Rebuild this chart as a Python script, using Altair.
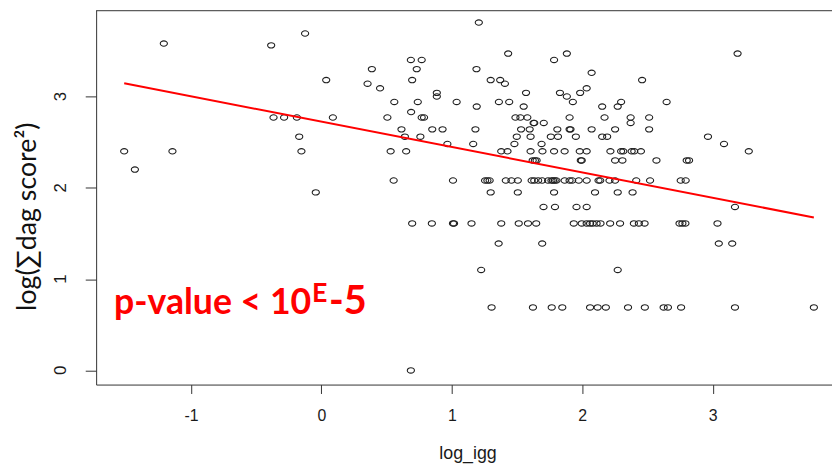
import altair as alt
import pandas as pd

# values
log_igg = [
    -1.512, -1.43, -1.208, -1.142, -0.385, -0.125, 0.037, -0.367, -0.286, -0.188, 0.088, -0.17, -0.153, -0.043,
    1.207, 1.432, 1.784, 1.882, 0.686, 0.769, 0.387, 0.731, 1.189, 0.696, 1.298, 1.371, 1.407, 0.354, 0.45,
    0.885, 0.885, 1.569, 1.829, 1.984, 1.882, 1.928, 0.559, 0.739, 1.037, 1.361, 1.44, 1.551, 1.191, 0.688,
    0.506, 0.769, 0.787, 1.488, 1.526, 1.579, 1.903, 1.627, 1.632, 1.705, 0.614, 0.85, 0.929, 1.181, 1.531,
    1.597, 1.809, 1.903, 1.91, 0.64, 0.759, 1.498, 1.604, 1.759, 1.814, 1.951, 0.966, 1.164, 1.48, 1.688,
    0.531, 0.65, 1.379, 1.427, 1.604, 1.695, 1.784, 1.865, 1.981, 1.62, 1.637, 1.65, 1.989, 1.996,
    0.554, 1.009, 1.255, 1.273, 1.29, 1.414, 1.457, 1.506, 1.612, 1.632, 1.662, 1.693, 1.738, 1.764, 1.776,
    1.789, 1.802, 1.865, 1.903, 1.923, 1.973,
    1.298, 1.506, 1.784,
    3.191, 2.072, 2.459, 2.034, 2.298, 2.647, 2.153, 2.272, 2.171, 2.371, 2.513, 2.371, 2.072, 2.252, 2.513,
    2.153, 2.191, 2.964, 3.087, 3.277,
    2.034, 2.216, 2.298, 2.315, 2.379, 2.399, 2.45,
    2.252, 2.308, 2.569, 2.801, 2.819,
    2.034, 2.125, 2.138, 2.209, 2.252, 2.414, 2.52, 2.755, 2.793,
    2.098, 2.272, 2.386,
    1.703, 1.791, 1.956,
    0.696, 0.847, 1.009, 1.017, 1.151, 1.379, 1.513, 1.584, 1.647, 1.935, 1.996,
    1.359, 1.693,
    1.225,
    1.305, 1.622, 1.766, 1.847,
    0.686,
    2.034, 3.171,
    2.034, 2.06, 2.08, 2.11, 2.14, 2.214, 2.29, 2.396, 2.434, 2.478, 2.746, 2.768, 2.791, 3.037,
    3.047, 3.15,
    2.272,
    2.06, 2.118, 2.181, 2.351, 2.48, 2.624, 2.657, 2.758, 3.171, 3.776,
]
log_dag = [
    2.40, 2.20, 3.58, 2.40, 3.56, 3.69, 3.18, 2.77, 2.77, 2.77, 2.77, 2.56, 2.40, 1.95,
    3.81, 3.47, 3.40, 3.47, 3.40, 3.40, 3.30, 3.30, 3.30, 3.18, 3.18, 3.18, 3.14, 3.14, 3.09,
    3.04, 3.00, 3.04, 3.04, 3.04, 3.00, 2.94, 2.94, 2.94, 2.94, 2.94, 2.94, 2.89, 2.89, 2.83,
    2.77, 2.77, 2.77, 2.77, 2.77, 2.77, 2.77, 2.71, 2.71, 2.71, 2.64, 2.64, 2.64, 2.64, 2.64,
    2.64, 2.64, 2.64, 2.64, 2.56, 2.56, 2.56, 2.56, 2.56, 2.56, 2.56, 2.48, 2.48, 2.48, 2.48,
    2.40, 2.40, 2.40, 2.40, 2.40, 2.40, 2.40, 2.40, 2.40, 2.30, 2.30, 2.30, 2.30, 2.30,
    2.08, 2.08, 2.08, 2.08, 2.08, 2.08, 2.08, 2.08, 2.08, 2.08, 2.08, 2.08, 2.08, 2.08, 2.08,
    2.08, 2.08, 2.08, 2.08, 2.08, 2.08,
    1.95, 1.95, 1.95,
    3.47, 3.26, 3.18, 3.09, 2.94, 2.94, 2.89, 2.89, 2.77, 2.77, 2.77, 2.71, 2.64, 2.64, 2.64,
    2.56, 2.56, 2.56, 2.48, 2.40,
    2.40, 2.40, 2.40, 2.40, 2.40, 2.40, 2.40,
    2.30, 2.30, 2.30, 2.30, 2.30,
    2.08, 2.08, 2.08, 2.08, 2.08, 2.08, 2.08, 2.08, 2.08,
    1.95, 1.95, 1.95,
    1.79, 1.79, 1.79,
    1.61, 1.61, 1.61, 1.61, 1.61, 1.61, 1.61, 1.61, 1.61, 1.61, 1.61,
    1.39, 1.39,
    1.10,
    0.69, 0.69, 0.69, 0.69,
    0.00,
    1.79, 1.79,
    1.61, 1.61, 1.61, 1.61, 1.61, 1.61, 1.61, 1.61, 1.61, 1.61, 1.61, 1.61, 1.61, 1.61,
    1.39, 1.39,
    1.10,
    0.69, 0.69, 0.69, 0.69, 0.69, 0.69, 0.69, 0.69, 0.69, 0.69,
]
fit_intercept = 2.725
fit_slope = -0.278
x_ticks = [-1, 0, 1, 2, 3]
y_ticks = [0, 1, 2, 3]
x_title = "log_igg"
y_title = "log(\u2211dag score\u00b2)"
ann_main = "p-value < 10"
ann_sup = "E"
ann_tail = "-5"

df = pd.DataFrame({"log_igg": log_igg, "log_dag": log_dag})
xmin, xmax = min(log_igg), max(log_igg)
fit_df = pd.DataFrame({
    "log_igg": [xmin, xmax],
    "fit": [fit_intercept + fit_slope * xmin, fit_intercept + fit_slope * xmax],
})
ytick_df = pd.DataFrame({"v": y_ticks, "lab": [str(v) for v in y_ticks]})

W, H = 743, 378
xscale = alt.Scale(domain=[-1.727, 3.915], nice=False, zero=False)
yscale = alt.Scale(domain=[-0.155, 3.945], nice=False, zero=False)
AX = "Liberation Sans"
TXT = "#1a1a1a"
ANN_FONT = "Lato"

x_axis = alt.Axis(values=x_ticks, title=x_title, grid=False, domainColor="#333", tickColor="#333",
                  tickSize=9, labelPadding=22, labelBaseline="middle", labelFont=AX, labelFontSize=16,
                  labelColor=TXT, labelExpr="'' + datum.value", titleFont=AX, titleFontSize=18,
                  titleFontWeight="normal", titleColor=TXT, titleX=375, titleY=75,
                  titleBaseline="alphabetic", titleAlign="center", labelFlush=False)
y_axis = alt.Axis(values=y_ticks, title=y_title, grid=False, domainColor="#333", tickColor="#333",
                  tickSize=11, labels=False, titleFont="Lato", titleFontSize=27,
                  titleFontWeight="normal", titleColor="#111", titleX=-69, titleY=208,
                  titleBaseline="middle", titleAlign="center", titleAngle=-90)

ellipse = "M -1 0 A 1 0.75 0 1 0 1 0 A 1 0.75 0 1 0 -1 0 Z"
points = alt.Chart(df).mark_point(shape=ellipse, filled=False, size=52, color="#1f1f1f",
                                  strokeWidth=1.1, opacity=1).encode(
    x=alt.X("log_igg:Q", scale=xscale, axis=x_axis),
    y=alt.Y("log_dag:Q", scale=yscale, axis=y_axis),
)

ylabels = alt.Chart(ytick_df).mark_text(angle=270, align="center", baseline="middle", font=AX,
                                        fontSize=17, color=TXT).encode(
    y=alt.Y("v:Q", scale=yscale), x=alt.value(-35), text="lab:N")

fit_line = alt.Chart(fit_df).mark_line(color="#ff0000", strokeWidth=2).encode(
    x=alt.X("log_igg:Q", scale=xscale),
    y=alt.Y("fit:Q", scale=yscale),
)

top_border = alt.Chart(pd.DataFrame({"b": [0]})).mark_rule(color="#333", strokeWidth=1).encode(
    x=alt.value(0), x2=alt.value(W), y=alt.value(0.5)
)

def label(text, x, y, size):
    return alt.Chart(pd.DataFrame({"t": [text]})).mark_text(
        align="left", baseline="alphabetic", font=ANN_FONT, fontWeight="bold", fontSize=size,
        color="#ff0000").encode(text="t:N", x=alt.value(x), y=alt.value(y))

chart = alt.layer(
    points, fit_line, top_border, ylabels,
    label(ann_main, 18, 307, 36),
    label(ann_sup, 218, 295, 27),
    label(ann_tail, 235, 307, 40),
).properties(
    width=W, height=H,
    padding={"left": 89, "top": 0, "right": 0, "bottom": 83},
    autosize=alt.AutoSizeParams(type="none"),
).configure_view(stroke="transparent")

chart.save("out.html", embed_options={"renderer": "svg", "actions": False})
